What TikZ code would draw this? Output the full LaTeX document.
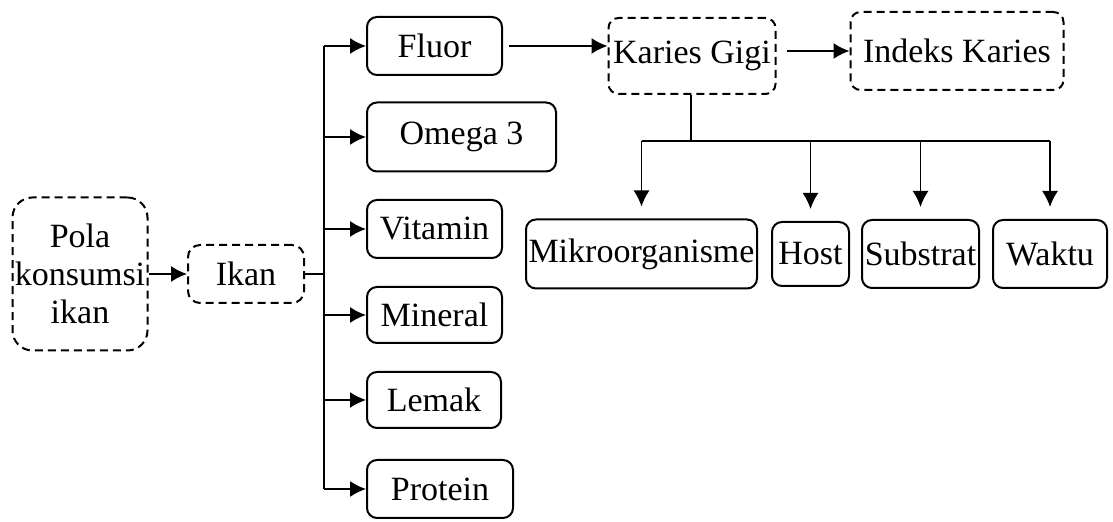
\documentclass[tikz,border=0pt]{standalone}
\usepackage{fontspec}
\setmainfont{Liberation Serif}
\usetikzlibrary{positioning}
\usetikzlibrary{calc}
\usetikzlibrary{arrows.meta}
\tikzset{box/.style={draw, line width=1pt, rounded corners=5pt, inner sep=0pt, align=center, font=\fontsize{17}{19}\selectfont},
dbox/.style={box, dash pattern=on 4pt off 2.5pt},
arr/.style={-{Latex[length=8pt,width=8pt]}, line width=0.8pt}}

\begin{document}
\begin{tikzpicture}[x=0.5pt, y=-0.5pt]
\useasboundingbox (0,0) rectangle (1113,522);
\node (pola) at (80,274) [dbox, minimum width=67.5pt, minimum height=76.5pt, rounded corners=10pt] {Pola\\konsumsi\\ikan};
\node (ikan) at (246,274) [dbox, minimum width=58pt, minimum height=29pt, rounded corners=6pt] {Ikan};
\coordinate (bus) at (324,274);
\node (fluor) at (366,46) [box, anchor=west, minimum width=67.5pt, minimum height=29pt] {Fluor};
\node (omega) at (366,137) [box, anchor=west, minimum width=94.5pt, minimum height=34.5pt] {Omega 3};
\node (vitamin) at (366,229) [box, anchor=west, minimum width=67.5pt, minimum height=29pt] {Vitamin};
\node (mineral) at (366,315) [box, anchor=west, minimum width=67.5pt, minimum height=28pt] {Mineral};
\node (lemak) at (366,400) [box, anchor=west, minimum width=67pt, minimum height=28pt] {Lemak};
\node (protein) at (366,489) [box, anchor=west, minimum width=73pt, minimum height=29pt] {Protein};
\node (karies) at (692,56) [dbox, minimum width=83.5pt, minimum height=38pt] {Karies Gigi};
\node (indeks) at (957,51) [dbox, minimum width=106.5pt, minimum height=39pt] {Indeks Karies};
\coordinate (kbus) at (691,141);
\node (mikro) at (641.5,254) [box, minimum width=115.5pt, minimum height=34.5pt] {Mikroorganisme};
\node (host) at (810.5,254) [box, minimum width=38.5pt, minimum height=32pt] {Host};
\node (substrat) at (920.5,254) [box, minimum width=58.5pt, minimum height=34pt] {Substrat};
\node (waktu) at (1050,254) [box, minimum width=57pt, minimum height=34pt] {Waktu};
% ikan branches
\draw[arr] (pola.east |- ikan) -- (ikan.west);
\draw[line width=1pt] (ikan.east) -- (bus);
\draw[line width=1pt] (bus |- fluor) -- (bus |- protein);
\foreach \n in {fluor,omega,vitamin,mineral,lemak,protein}
  \draw[arr] (bus |- \n) -- (\n.west);
% karies
\draw[arr, shorten <=3pt] (fluor.east) -- (karies.west |- fluor);
\draw[arr, shorten <=5pt] (karies.east |- indeks) -- (indeks.west);
\draw[line width=1.2pt] (karies.south -| kbus) -- (kbus);
\draw[line width=1.2pt] (kbus -| mikro) -- (kbus -| waktu);
\foreach \n in {mikro,host,substrat,waktu}
  \draw[arr, shorten >=6pt] (kbus -| \n) -- (\n.north);
\end{tikzpicture}
\end{document}
